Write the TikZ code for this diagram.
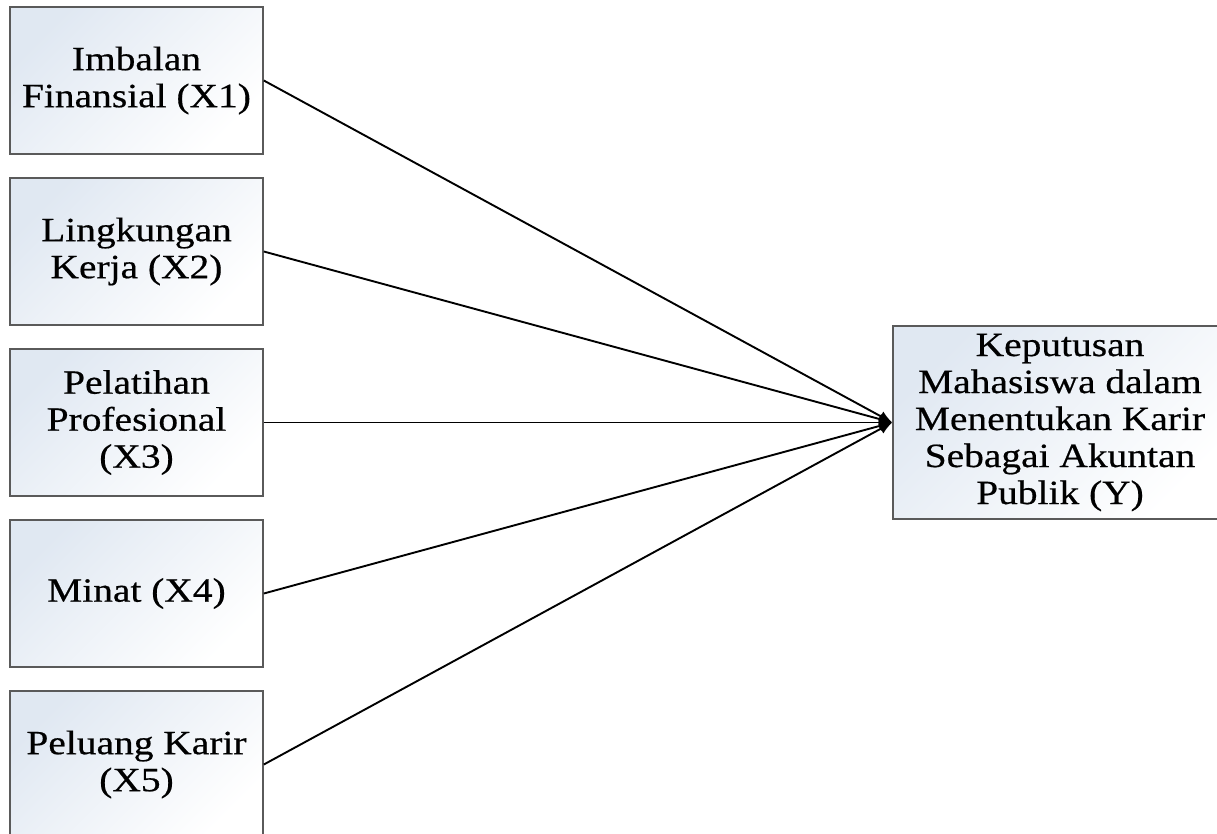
\documentclass[tikz,border=0pt]{standalone}
\usepackage{fontspec}
\setmainfont[FakeStretch=1.16,FakeBold=0.5]{Liberation Serif}
\usetikzlibrary{arrows.meta}
\definecolor{boxblue}{HTML}{E0E8F2}
\definecolor{boxborder}{HTML}{5A5A5A}
\tikzset{
  varbox/.style={draw=boxborder, line width=1.6pt, shading=axis, top color=boxblue, bottom color=white, shading angle=45,
    minimum width=253pt, minimum height=147pt, inner sep=0pt, align=center,
    font=\fontsize{34pt}{37pt}\selectfont},
  ybox/.style={varbox, minimum width=334pt, minimum height=193pt},
  link/.style={draw=black, line width=1.9pt, -{Latex[length=13pt,width=11pt]}}
}
\begin{document}
\begin{tikzpicture}[x=1pt,y=-1pt]
\useasboundingbox (0,0) rectangle (1217,833);
\clip (0,0) rectangle (1217,833);
\fill[white] (0,0) rectangle (1217,833);
\node[varbox] (x1) at (136.5,80.5) {Imbalan\\Finansial (X1)};
\node[varbox] (x2) at (136.5,251.5) {Lingkungan\\Kerja (X2)};
\node[varbox] (x3) at (136.5,422.5) {Pelatihan\\Profesional\\(X3)};
\node[varbox] (x4) at (136.5,593.5) {Minat (X4)};
\node[varbox] (x5) at (136.5,764.5) {Peluang Karir\\(X5)};
\node[ybox] (y) at (1060,422.5) {Keputusan\\Mahasiswa dalam\\Menentukan Karir\\Sebagai Akuntan\\Publik (Y)};
\foreach \n in {x1,x2,x3,x4,x5}{
  \draw[link] (\n.east) -- (y.west);
}
\end{tikzpicture}
\end{document}
